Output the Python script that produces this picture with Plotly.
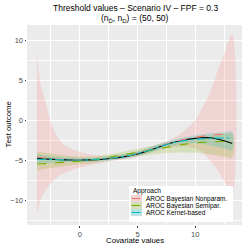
import plotly.graph_objects as go

covariate = [-3.7, -3.4, -3.0, -2.5, -2.0, -1.5, -1.0, -0.5, 0, 1, 2, 3, 4, 5, 6, 7, 8, 9, 10, 10.5, 11, 11.5, 12, 12.5, 13.2]

true_thr = [-4.8, -4.83, -4.87, -4.9, -4.94, -4.97, -4.99, -5.0, -5.0, -4.98, -4.9, -4.75, -4.55, -4.25, -3.8, -3.3, -2.85, -2.5, -2.3, -2.22, -2.2, -2.25, -2.4, -2.6, -2.95]

bnp_est = [-4.6, -4.68, -4.75, -4.83, -4.9, -4.93, -4.95, -4.97, -4.98, -4.95, -4.85, -4.7, -4.5, -4.2, -3.75, -3.25, -2.8, -2.45, -2.15, -2.05, -1.95, -1.87, -1.8, -1.77, -1.75]
bnp_up = [8.4, 4.5, 2.4, -0.3, -2.0, -2.9, -3.4, -3.75, -4.0, -4.3, -4.45, -4.4, -4.2, -3.9, -3.45, -2.9, -2.3, -1.4, 0.0, 1.2, 2.6, 4.3, 6.4, 8.2, 10.75]
bnp_lo = [-11.9, -10.0, -8.9, -7.9, -7.2, -6.75, -6.4, -6.15, -5.95, -5.6, -5.35, -5.1, -4.9, -4.6, -4.15, -3.7, -3.4, -3.3, -3.5, -3.9, -4.6, -5.4, -6.4, -7.6, -9.4]

sp_est = [-5.5, -5.47, -5.45, -5.4, -5.35, -5.3, -5.25, -5.2, -5.15, -5.0, -4.8, -4.55, -4.3, -4.05, -3.8, -3.55, -3.3, -3.05, -2.85, -2.8, -2.75, -2.72, -2.7, -2.68, -2.65]
sp_up = [-3.95, -4.0, -4.1, -4.2, -4.3, -4.4, -4.5, -4.55, -4.6, -4.6, -4.45, -4.2, -3.9, -3.6, -3.3, -3.0, -2.7, -2.4, -2.15, -2.0, -1.9, -1.85, -1.8, -1.75, -1.7]
sp_lo = [-6.3, -6.2, -6.1, -6.0, -5.9, -5.8, -5.7, -5.6, -5.55, -5.4, -5.2, -4.95, -4.75, -4.55, -4.35, -4.2, -4.1, -4.05, -4.1, -4.15, -4.25, -4.35, -4.45, -4.55, -4.7]

ker_est = [-4.9, -4.9, -4.92, -4.94, -4.96, -4.98, -5.0, -5.0, -5.0, -4.97, -4.88, -4.72, -4.5, -4.2, -3.78, -3.3, -2.88, -2.58, -2.42, -2.36, -2.32, -2.28, -2.26, -2.25, -2.25]
ker_up = [-4.3, -4.35, -4.45, -4.55, -4.6, -4.65, -4.7, -4.72, -4.75, -4.72, -4.62, -4.45, -4.22, -3.9, -3.45, -2.95, -2.5, -2.15, -1.9, -1.8, -1.7, -1.6, -1.55, -1.5, -1.5]
ker_lo = [-5.5, -5.45, -5.4, -5.35, -5.3, -5.28, -5.25, -5.25, -5.25, -5.22, -5.15, -5.0, -4.8, -4.5, -4.1, -3.65, -3.25, -3.0, -2.95, -3.0, -3.1, -3.25, -3.4, -3.55, -3.75]

approaches = ["AROC Bayesian Nonparam.", "AROC Bayesian Semipar.", "AROC Kernel-based"]
line_colors = ["#F8766D", "#7CAE00", "#00BFC4"]
fill_colors = ["rgba(248,118,109,0.2)", "rgba(124,174,0,0.2)", "rgba(0,191,196,0.2)"]
dashes = ["dash", "dash", "dashdot"]
ests = [bnp_est, sp_est, ker_est]
ups = [bnp_up, sp_up, ker_up]
los = [bnp_lo, sp_lo, ker_lo]

fig = go.Figure()
for i in range(3):
    fig.add_trace(go.Scatter(x=covariate + covariate[::-1], y=ups[i] + los[i][::-1],
                             fill="toself", fillcolor=fill_colors[i], line=dict(width=0, shape="spline"),
                             mode="lines", hoverinfo="skip", showlegend=False))
fig.add_trace(go.Scatter(x=covariate, y=true_thr, mode="lines", line=dict(color="black", width=1.1, shape="spline"),
                         showlegend=False))
for i in range(3):
    fig.add_trace(go.Scatter(x=covariate, y=ests[i], mode="lines", name=approaches[i], showlegend=False,
                             line=dict(color=line_colors[i], width=1.1, dash=dashes[i], shape="spline")))

axis_common = dict(showgrid=True, gridcolor="white", gridwidth=1, zeroline=False, ticks="outside",
                   ticklen=1.5, tickcolor="#333333", tickfont=dict(size=7.5, color="#4D4D4D"),
                   showline=False)
fig.update_xaxes(range=[-4.57, 14.05], tickvals=[0, 5, 10], ticktext=["0", "5", "10"],
                 minor=dict(showgrid=True, gridcolor="white", gridwidth=0.5, tickvals=[-2.5, 2.5, 7.5, 12.5]),
                 **axis_common)
fig.update_yaxes(range=[-13.125, 11.875], tickvals=[-10, -5, 0, 5, 10], ticktext=["\u221210", "\u22125", "0", "5", "10"],
                 minor=dict(showgrid=True, gridcolor="white", gridwidth=0.5, tickvals=[-12.5, -7.5, -2.5, 2.5, 7.5]),
                 **axis_common)

# plot area in pixels: x 27..242, y 25..225
def px(xp):
    return (xp - 27) / 215.0
def py(yp):
    return (225 - yp) / 200.0

annotations = [
    dict(text="Threshold values \u2013 Scenario IV \u2013 FPF = 0.3", x=px(135), y=py(8), xref="paper", yref="paper",
         showarrow=False, xanchor="center", yanchor="middle", font=dict(size=8.5, color="black")),
    dict(text="(n<sub>D\u0304</sub>, n<sub>D</sub>) = (50, 50)", x=px(135), y=py(18.5), xref="paper", yref="paper",
         showarrow=False, xanchor="center", yanchor="middle", font=dict(size=8.5, color="black")),
    dict(text="Covariate values", x=px(134.5), y=py(240.5), xref="paper", yref="paper",
         showarrow=False, xanchor="center", yanchor="middle", font=dict(size=7.8, color="black")),
    dict(text="Test outcome", x=px(7.5), y=py(125), xref="paper", yref="paper", textangle=-90,
         showarrow=False, xanchor="center", yanchor="middle", font=dict(size=7.8, color="black")),
    dict(text="Approach", x=px(131), y=py(190.5), xref="paper", yref="paper",
         showarrow=False, xanchor="left", yanchor="middle", font=dict(size=6.5, color="black")),
]
shapes = [dict(type="rect", xref="paper", yref="paper", x0=px(129), x1=px(233), y0=py(222), y1=py(186),
               fillcolor="white", line=dict(width=0), layer="above")]
entry_y = [198.5, 205.5, 212.5]
for i in range(3):
    yc = entry_y[i]
    shapes.append(dict(type="rect", xref="paper", yref="paper", x0=px(131), x1=px(142), y0=py(yc + 3.5), y1=py(yc - 3.5),
                       fillcolor="#EBEBEB", line=dict(width=0), layer="above"))
    shapes.append(dict(type="rect", xref="paper", yref="paper", x0=px(131), x1=px(142), y0=py(yc + 3.5), y1=py(yc - 3.5),
                       fillcolor=fill_colors[i], line=dict(width=0), layer="above"))
    shapes.append(dict(type="line", xref="paper", yref="paper", x0=px(131.5), x1=px(141.5), y0=py(yc), y1=py(yc),
                       line=dict(color=line_colors[i], width=1.1, dash=dashes[i]), layer="above"))
    annotations.append(dict(text=approaches[i], x=px(144), y=py(yc), xref="paper", yref="paper",
                            showarrow=False, xanchor="left", yanchor="middle", font=dict(size=6.5, color="black")))

fig.update_layout(
    width=245, height=245,
    margin=dict(l=27, r=3, t=25, b=20),
    paper_bgcolor="white", plot_bgcolor="#EBEBEB",
    font=dict(family="Liberation Sans, Arial, sans-serif"),
    showlegend=False,
    annotations=annotations,
    shapes=shapes,
)

fig.write_html("out.html", config={"displayModeBar": False},
               post_script="document.body.style.margin='0';document.body.style.overflow='hidden';")
